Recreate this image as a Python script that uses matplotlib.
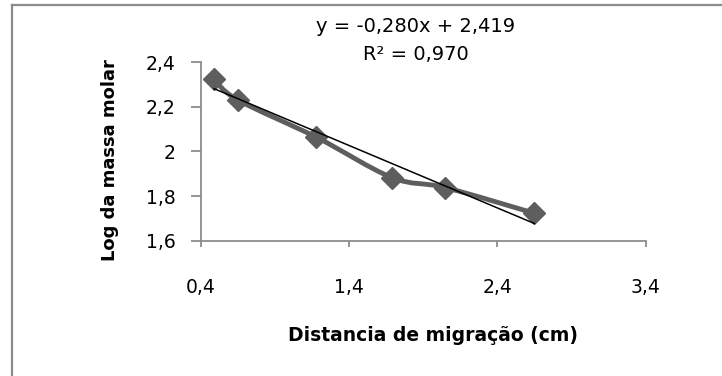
import matplotlib
matplotlib.use("Agg")
import matplotlib.pyplot as plt
from matplotlib.path import Path
from matplotlib.patches import PathPatch
from matplotlib.lines import Line2D
import numpy as np

plt.rcParams['font.family'] = ['DejaVu Sans']

# Data
distancia = [0.49, 0.65, 1.18, 1.69, 2.05, 2.65]
log_massa = [2.324, 2.231, 2.064, 1.883, 1.838, 1.723]
slope = -0.280
intercept = 2.419
eq_text = "y = -0,280x + 2,419"
r2_text = "R² = 0,970"
x_ticks = [0.4, 1.4, 2.4, 3.4]
x_ticklabels = ["0,4", "1,4", "2,4", "3,4"]
y_ticks = [1.6, 1.8, 2.0, 2.2, 2.4]
y_ticklabels = ["1,6", "1,8", "2", "2,2", "2,4"]
x_title = "Distancia de migração (cm)"
y_title = "Log da massa molar"

W, H = 722, 376
fig = plt.figure(figsize=(W / 100, H / 100), dpi=100)
ax = fig.add_axes([200.7 / W, 1 - 240.7 / H, (645.7 - 200.7) / W, (240.7 - 62.3) / H])
ax.set_xlim(0.4, 3.4)
ax.set_ylim(1.6, 2.4)

gray = '#5e5e5e'
axis_gray = '#8c8c8c'

# Smoothed line (Excel-like Catmull-Rom Bezier)
pts = np.column_stack([distancia, log_massa])
n = len(pts)
verts = [tuple(pts[0])]
codes = [Path.MOVETO]
for i in range(n - 1):
    p0 = pts[i - 1] if i > 0 else pts[i]
    p1 = pts[i]
    p2 = pts[i + 1]
    p3 = pts[i + 2] if i + 2 < n else pts[i + 1]
    c1 = p1 + (p2 - p0) / 6.0
    c2 = p2 - (p3 - p1) / 6.0
    verts += [tuple(c1), tuple(c2), tuple(p2)]
    codes += [Path.CURVE4] * 3
ax.add_patch(PathPatch(Path(verts, codes), facecolor='none', edgecolor=gray,
                       linewidth=3.5, capstyle='round', joinstyle='round', zorder=2))
ax.plot(distancia, log_massa, linestyle='none', marker='D', markersize=11,
        color=gray, zorder=3)

# Trendline
xt = np.array([min(distancia), max(distancia)])
ax.plot(xt, slope * xt + intercept, color='black', linewidth=1.1, zorder=4)

# Axes styling
for s in ['top', 'right']:
    ax.spines[s].set_visible(False)
for s in ['left', 'bottom']:
    ax.spines[s].set_color(axis_gray)
    ax.spines[s].set_linewidth(1.3)
ax.set_xticks(x_ticks)
ax.set_xticklabels(x_ticklabels)
ax.set_yticks(y_ticks)
ax.set_yticklabels(y_ticklabels)
ax.tick_params(axis='both', colors=axis_gray, labelcolor='black', labelsize=13.5,
               width=1.3, direction='out')
ax.tick_params(axis='x', length=4.5, pad=22)
ax.tick_params(axis='y', length=7, pad=11)

ax.set_xlabel(x_title, fontsize=13.5, fontweight='bold')
ax.set_ylabel(y_title, fontsize=13, fontweight='bold')
ax.xaxis.set_label_coords((432.5 - 200.7) / 445, -(326 - 240.7) / 178.4)
ax.xaxis.label.set_va('top')
ax.yaxis.set_label_coords((110 - 200.7) / 445, 1 - (160 - 62.3) / 178.4)
ax.yaxis.label.set_va('center')

fig.text(416 / W, 1 - 27 / H, eq_text, ha='center', va='center', fontsize=14)
fig.text(416 / W, 1 - 55 / H, r2_text, ha='center', va='center', fontsize=14)

# Chart border (top and left visible)
fig.add_artist(Line2D([12 / W, 1.0], [1 - 5 / H, 1 - 5 / H], color=axis_gray, linewidth=1.6))
fig.add_artist(Line2D([12 / W, 12 / W], [0, 1 - 5 / H], color=axis_gray, linewidth=1.6))

fig.savefig("out.png", dpi=100, facecolor='white')
